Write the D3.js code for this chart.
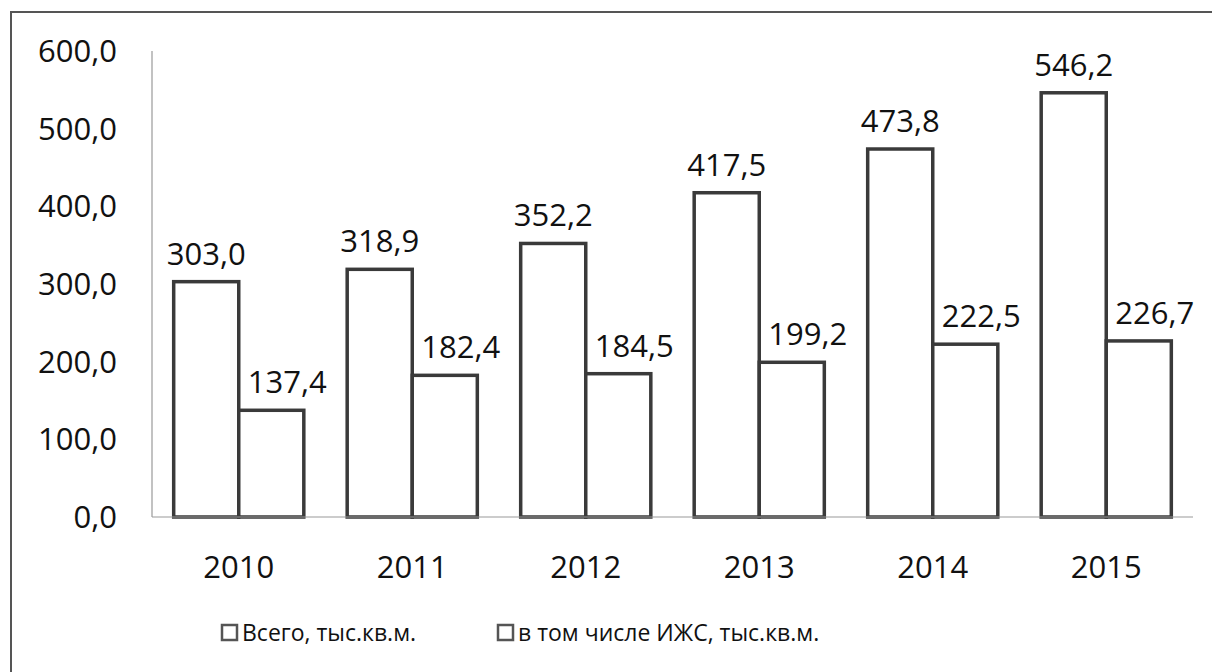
<!DOCTYPE html>
<html>
<head>
<meta charset="utf-8">
<script src="https://cdnjs.cloudflare.com/ajax/libs/d3/7.8.5/d3.min.js"></script>
<style>
  body { margin: 0; background: #fff; }
  svg { display: block; font-family: "Open Sans", sans-serif; }
</style>
</head>
<body>
<div id="chart"></div>
<script>
/* data */
var years = ["2010", "2011", "2012", "2013", "2014", "2015"];
var seriesNames = ["Всего, тыс.кв.м.", "в том числе ИЖС, тыс.кв.м."];
var total = [303.0, 318.9, 352.2, 417.5, 473.8, 546.2];
var izhs = [137.4, 182.4, 184.5, 199.2, 222.5, 226.7];
var yTicks = [0, 100, 200, 300, 400, 500, 600];

var width = 1212, height = 672;
var fmt = function(v) { return v.toFixed(1).replace(".", ","); };

var svg = d3.select("#chart").append("svg")
  .attr("width", width).attr("height", height);

// frame (only left and top edges show in the scan)
svg.append("path")
  .attr("d", "M11,673 L11,12 L1213,12")
  .attr("fill", "none").attr("stroke", "#555").attr("stroke-width", 2);

var x0 = d3.scaleBand().domain(years).range([152, 1193])
  .paddingInner(0.25).paddingOuter(0.125);
var x1 = d3.scaleBand().domain([0, 1]).range([0, x0.bandwidth()]);
var y = d3.scaleLinear().domain([0, 600]).range([517, 51]);

// axes lines
svg.append("line")
  .attr("x1", 152).attr("x2", 152).attr("y1", y(600)).attr("y2", y(0))
  .attr("stroke", "#999").attr("stroke-width", 1.2);

// y tick labels
svg.append("g").selectAll("text")
  .data(yTicks).enter().append("text")
  .attr("x", 117).attr("y", function(d) { return y(d); })
  .attr("dy", "0.36em")
  .attr("text-anchor", "end")
  .style("font-size", "31px").attr("fill", "#111")
  .text(fmt);

var rows = years.map(function(yr, i) { return { year: yr, vals: [total[i], izhs[i]] }; });

var grp = svg.append("g").selectAll("g")
  .data(rows).enter().append("g")
  .attr("transform", function(d) { return "translate(" + x0(d.year) + ",0)"; });

grp.selectAll("rect")
  .data(function(d) { return d.vals; })
  .enter().append("rect")
  .attr("x", function(d, i) { return x1(i); })
  .attr("width", x1.bandwidth())
  .attr("y", function(d) { return y(d); })
  .attr("height", function(d) { return y(0) - y(d); })
  .attr("fill", "#fff").attr("stroke", "#3a3a3a").attr("stroke-width", 3.5);

grp.selectAll("text.val")
  .data(function(d) { return d.vals; })
  .enter().append("text").attr("class", "val")
  .attr("x", function(d, i) { return x1(i) + x1.bandwidth() / 2 + (i === 1 ? 16 : 0); })
  .attr("y", function(d) { return y(d) - 17; })
  .attr("text-anchor", "middle")
  .style("font-size", "31px").attr("fill", "#111")
  .text(fmt);

// baseline over the bars
svg.append("line")
  .attr("x1", 152).attr("x2", 1193).attr("y1", y(0)).attr("y2", y(0))
  .attr("stroke", "#999").attr("stroke-width", 1.2);

// x labels
svg.append("g").selectAll("text")
  .data(years).enter().append("text")
  .attr("x", function(d) { return x0(d) + x0.bandwidth() / 2; })
  .attr("y", 578)
  .attr("text-anchor", "middle")
  .style("font-size", "31px").attr("fill", "#111")
  .text(function(d) { return d; });

// legend
var legX = [222, 498];
var leg = svg.append("g").selectAll("g")
  .data(seriesNames).enter().append("g")
  .attr("transform", function(d, i) { return "translate(" + legX[i] + ",625)"; });
leg.append("rect")
  .attr("width", 15).attr("height", 15)
  .attr("fill", "#fff").attr("stroke", "#555").attr("stroke-width", 2.5);
leg.append("text")
  .attr("x", 20).attr("y", 8).attr("dy", "0.36em")
  .style("font-size", "23px").attr("fill", "#111")
  .text(function(d) { return d; });
</script>
</body>
</html>
